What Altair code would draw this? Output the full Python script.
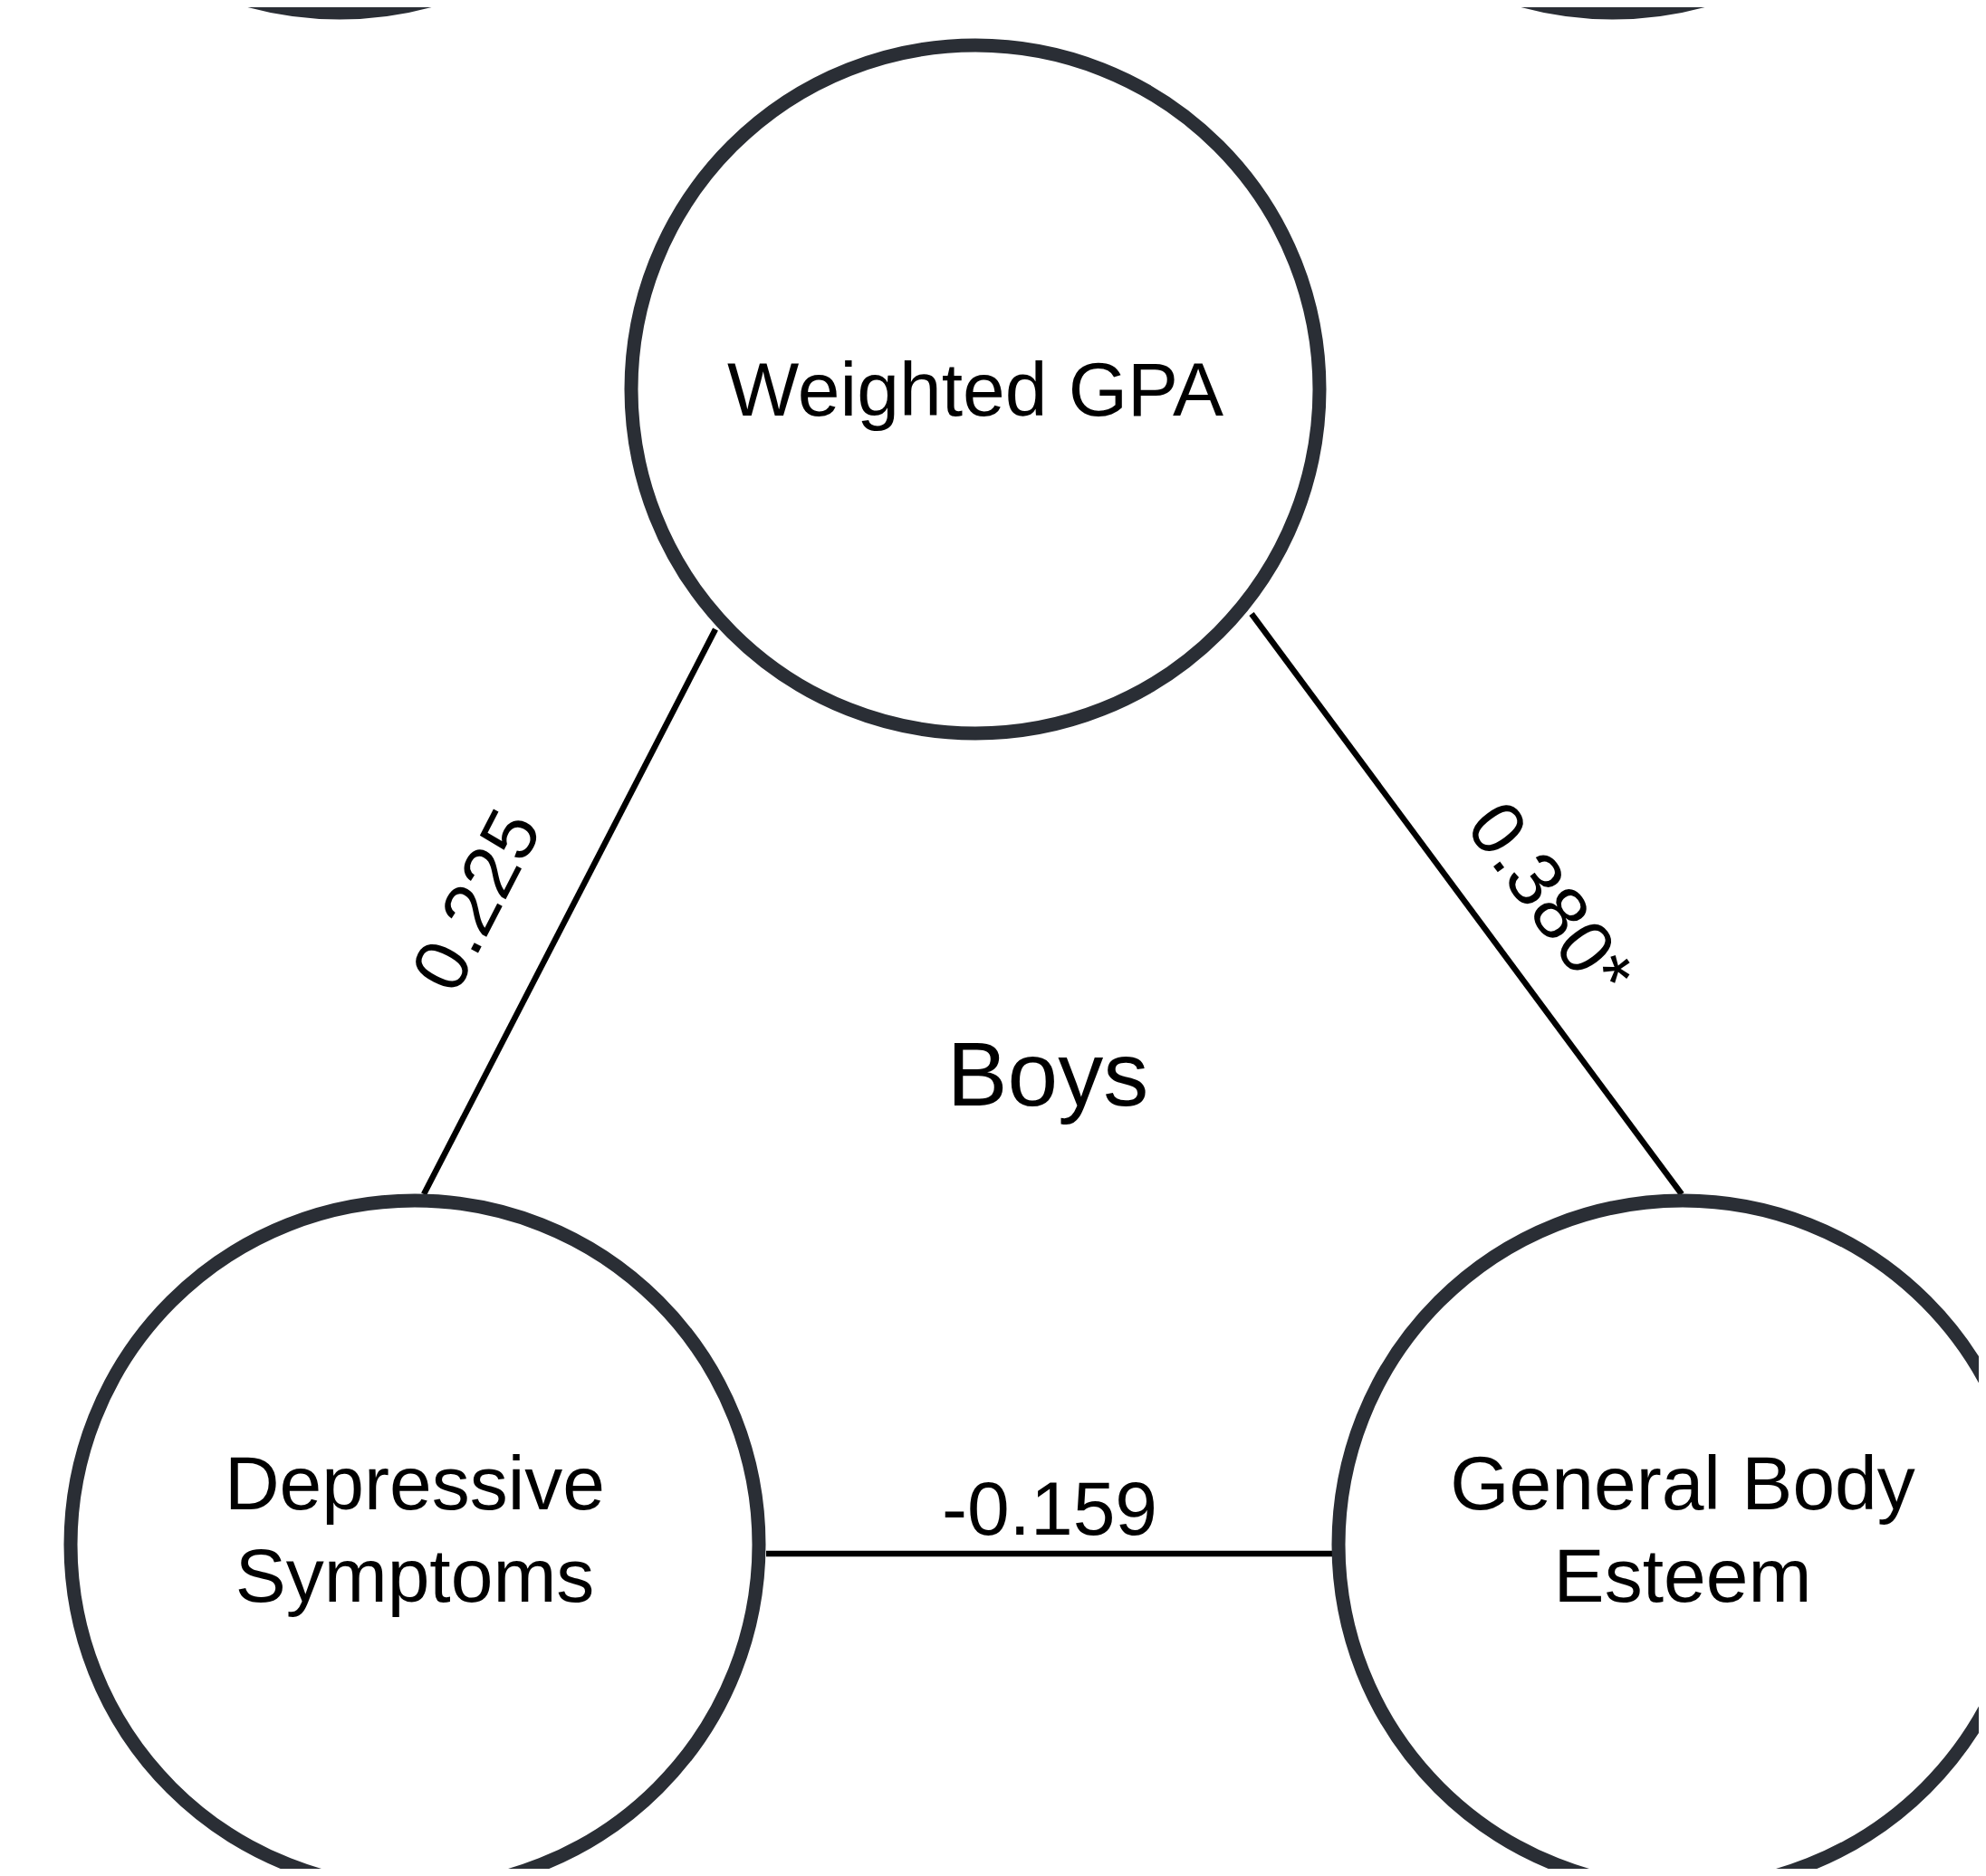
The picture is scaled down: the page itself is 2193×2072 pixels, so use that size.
import altair as alt
import pandas as pd

W, H = 2193, 2072
M = 8  # page margin

# Nodes (diagram coordinates, px of the reference)
node_names = ["", "", "Weighted GPA", "Depressive\nSymptoms", "General Body\nEsteem"]
node_cx = [375, 1781, 1077, 458, 1858]
node_cy = [-366, -366, 430, 1706, 1706]
node_label_baseline = [None, None, 459, 1667, 1667]
line_gap = 102

# Edges
edge_x1 = [790, 1382, 846]
edge_y1 = [695, 678, 1716]
edge_x2 = [468, 1857, 1471]
edge_y2 = [1319, 1319, 1716]

# Edge coefficients
coef_text = ["0.225", "0.380*", "-0.159"]
coef_x = [529, 1709, 1159]
coef_y = [996, 996, 1670]
coef_angle = [297.3, 53.5, 0]

group_text = ["Boys"]
group_x = [1157]
group_y = [1221]

nodes = pd.DataFrame({"x": node_cx, "y": node_cy})

rows = []
for name, cx, base in zip(node_names, node_cx, node_label_baseline):
    if not name:
        continue
    for i, line in enumerate(name.split("\n")):
        rows.append({"x": cx, "y": base + i * line_gap, "text": line})
node_labels = pd.DataFrame(rows)

edges = pd.DataFrame({"x": edge_x1, "y": edge_y1, "x2": edge_x2, "y2": edge_y2})
coefs = pd.DataFrame({"x": coef_x, "y": coef_y, "text": coef_text, "angle": coef_angle})
groups = pd.DataFrame({"x": group_x, "y": group_y, "text": group_text})

xs = alt.Scale(domain=[M, W - M], nice=False, zero=False)
ys = alt.Scale(domain=[M, H - M], nice=False, zero=False, reverse=True)
X = alt.X("x:Q", scale=xs, axis=None)
Y = alt.Y("y:Q", scale=ys, axis=None)

circles = alt.Chart(nodes).mark_point(
    shape="circle", filled=False, size=577600, strokeWidth=15,
    color="#2a2e35", opacity=1, clip=True
).encode(x=X, y=Y)

lines = alt.Chart(edges).mark_rule(strokeWidth=6.5, color="#000000").encode(
    x=X, y=Y, x2="x2:Q", y2="y2:Q"
)

labels = alt.Chart(node_labels).mark_text(
    font="Liberation Sans", fontSize=84, color="#000000", align="center", baseline="alphabetic"
).encode(x=X, y=Y, text="text:N")

coef_marks = alt.Chart(coefs).mark_text(
    font="Liberation Sans", fontSize=84, color="#000000", align="center", baseline="middle"
).encode(x=X, y=Y, text="text:N", angle=alt.Angle("angle:Q", scale=None))

group_marks = alt.Chart(groups).mark_text(
    font="Liberation Sans", fontSize=100, color="#000000", align="center", baseline="alphabetic"
).encode(x=X, y=Y, text="text:N")

chart = alt.layer(lines, circles, labels, coef_marks, group_marks).properties(
    width=W - 2 * M, height=H - 2 * M,
    padding=0,
    autosize=alt.AutoSizeParams(type="none"),
    background="white",
).configure_view(stroke=None)

chart.save("out.html", embed_options={"renderer": "svg", "actions": False})
